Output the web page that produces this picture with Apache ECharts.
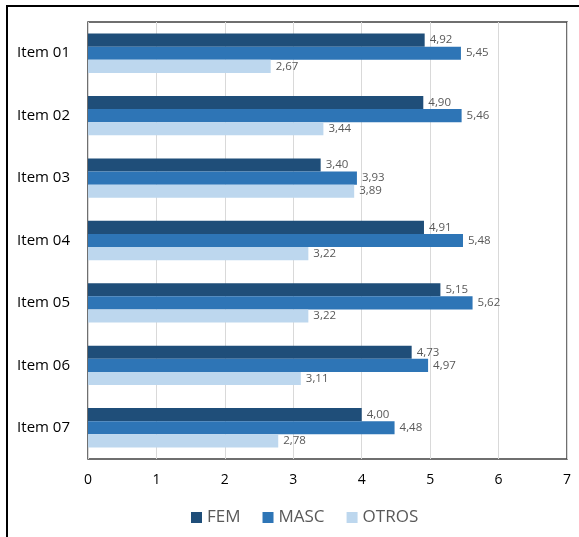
<!DOCTYPE html>
<html>
<head>
<meta charset="utf-8">
<script src="https://cdn.jsdelivr.net/npm/echarts@6/dist/echarts.min.js"></script>
<style>
  html, body { margin: 0; padding: 0; background: #fff; }
  #chart { width: 579px; height: 537px; }
</style>
</head>
<body>
<div id="chart"></div>
<script>
// Items shown on the vertical axis, top to bottom
const items = ['Item 01', 'Item 02', 'Item 03', 'Item 04', 'Item 05', 'Item 06', 'Item 07'];
// Average score per group
const fem = [4.92, 4.90, 3.40, 4.91, 5.15, 4.73, 4.00];
const masc = [5.45, 5.46, 3.93, 5.48, 5.62, 4.97, 4.48];
const otros = [2.67, 3.44, 3.89, 3.22, 3.22, 3.11, 2.78];
const seriesNames = ['FEM', 'MASC', 'OTROS'];

const fontFamily = '"Open Sans", "Noto Sans", sans-serif';
const fmt = v => v.toFixed(2).replace('.', ',');

function barSeries(name, data, color) {
  return {
    name: name,
    type: 'bar',
    data: data,
    barGap: '0%',
    barCategoryGap: '37%',
    itemStyle: { color: color },
    label: {
      show: true,
      position: 'right',
      distance: 5,
      color: '#595959',
      fontSize: 11.5,
      fontFamily: fontFamily,
      formatter: p => fmt(p.value)
    }
  };
}

const chart = echarts.init(document.getElementById('chart'), null, { renderer: 'canvas' });
chart.setOption({
  animation: false,
  backgroundColor: '#fff',
  graphic: [{
    type: 'rect',
    shape: { x: 7, y: 6, width: 640, height: 640 },
    style: { fill: 'none', stroke: '#000', lineWidth: 2 },
    silent: true
  }],
  grid: {
    left: 88, right: 12, top: 22, bottom: 78,
    show: true,
    borderColor: '#404040',
    borderWidth: 1.5
  },
  legend: {
    bottom: 6,
    left: 186,
    itemWidth: 11,
    itemHeight: 11,
    itemGap: 22,
    icon: 'rect',
    textStyle: { color: '#595959', fontSize: 17, fontFamily: fontFamily },
    data: seriesNames
  },
  xAxis: {
    type: 'value',
    min: 0,
    max: 7,
    interval: 1,
    axisLine: { show: false },
    axisTick: { show: false },
    axisLabel: { color: '#000', fontSize: 14, fontFamily: fontFamily, margin: 14 },
    splitLine: { lineStyle: { color: '#d9d9d9', width: 1 } }
  },
  yAxis: {
    type: 'category',
    data: items,
    inverse: true,
    axisLine: { show: false },
    axisTick: { show: false },
    axisLabel: { color: '#000', fontSize: 15, fontFamily: fontFamily, margin: 18 },
    splitLine: { show: false }
  },
  series: [
    barSeries(seriesNames[0], fem, '#1f4e79'),
    barSeries(seriesNames[1], masc, '#2e75b6'),
    barSeries(seriesNames[2], otros, '#bdd7ee')
  ]
});
</script>
</body>
</html>
